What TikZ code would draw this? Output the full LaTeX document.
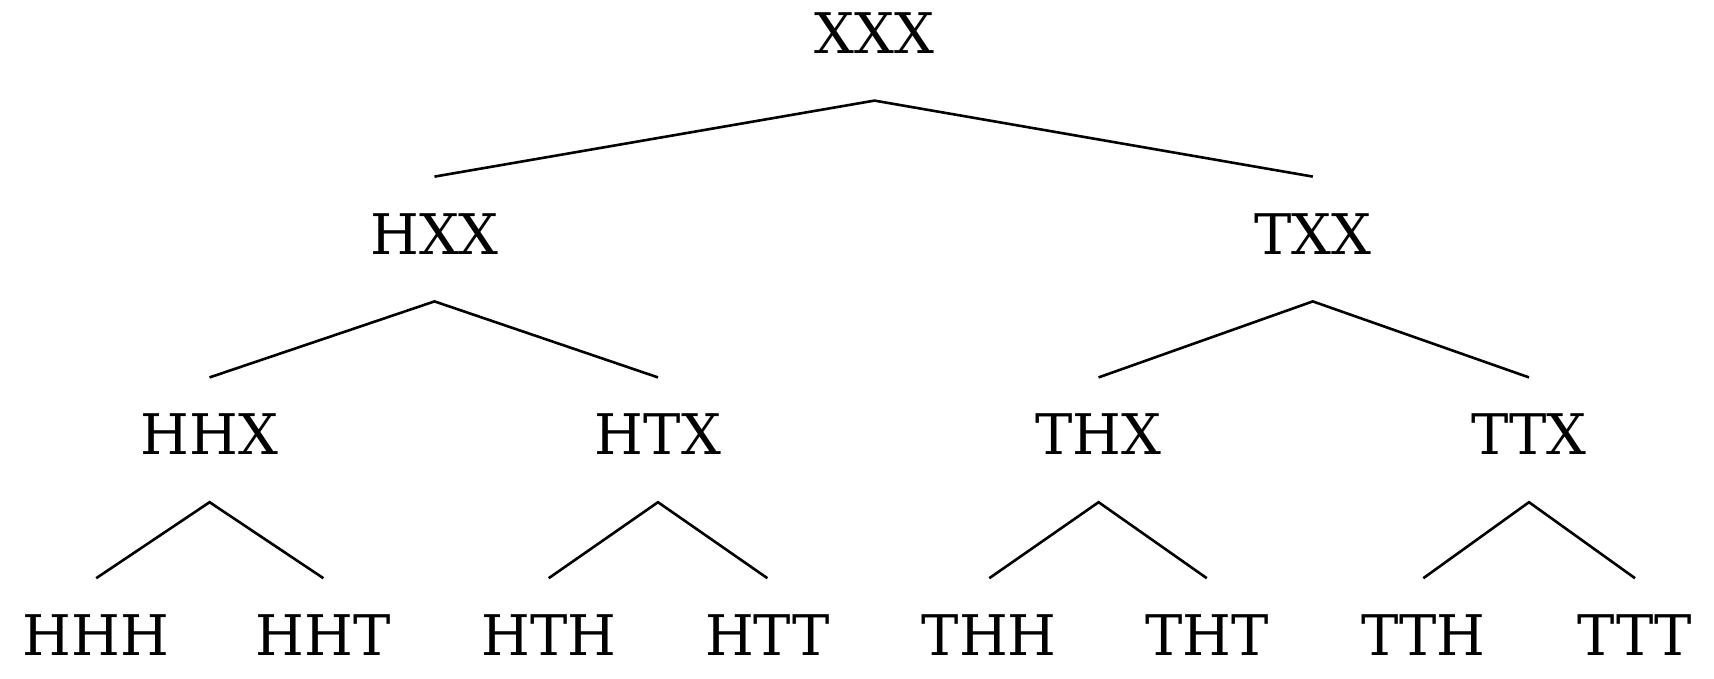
\documentclass[tikz,border=0pt]{standalone}
\usepackage{fontspec}
\setmainfont{DejaVu Serif}
\begin{document}
\begin{tikzpicture}[x=1pt,y=-1pt,
  lbl/.style={anchor=base,inner sep=0pt,font=\fontsize{56}{56}\selectfont},
  edge/.style={line width=2.6pt,line join=miter}]
\useasboundingbox (0,0) rectangle (1714,678);
\node[lbl] (xxx) at (874.5,53.3) {XXX};
\node[lbl] (hxx) at (434.5,254.1) {HXX};
\node[lbl] (txx) at (1312.8,254.1) {TXX};
\node[lbl] (hhx) at (209.6,454.9) {HHX};
\node[lbl] (htx) at (658,454.9) {HTX};
\node[lbl] (thx) at (1098.6,454.9) {THX};
\node[lbl] (ttx) at (1529,454.9) {TTX};
\node[lbl] (hhh) at (96.2,655.7) {HHH};
\node[lbl] (hht) at (323.4,655.7) {HHT};
\node[lbl] (hth) at (548.7,655.7) {HTH};
\node[lbl] (htt) at (767.4,655.7) {HTT};
\node[lbl] (thh) at (989.3,655.7) {THH};
\node[lbl] (tht) at (1206.8,655.7) {THT};
\node[lbl] (tth) at (1423.3,655.7) {TTH};
\node[lbl] (ttt) at (1635,655.7) {TTT};
\foreach \p/\a/\b in {xxx/hxx/txx,hxx/hhx/htx,txx/thx/ttx,hhx/hhh/hht,htx/hth/htt,thx/thh/tht,ttx/tth/ttt}{
  \draw[edge] ([yshift=77.5pt]\a.base) -- ([yshift=-47.3pt]\p.base) -- ([yshift=77.5pt]\b.base);
}
\end{tikzpicture}
\end{document}
